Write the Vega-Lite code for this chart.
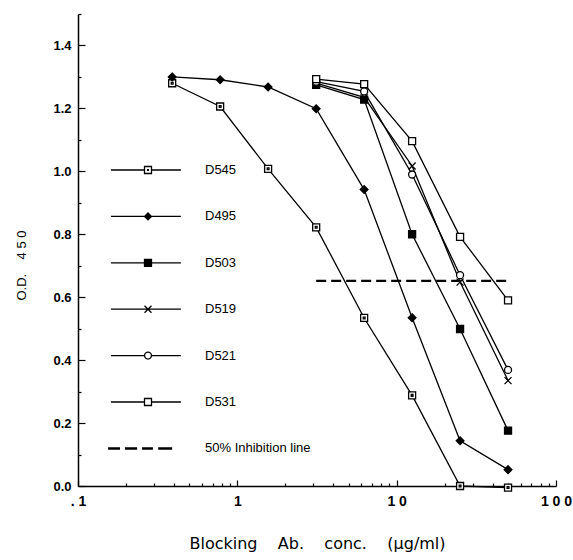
{
  "$schema": "https://vega.github.io/schema/vega-lite/v6.json",
  "width": 478,
  "height": 472,
  "autosize": "none",
  "padding": {"left": 78, "top": 14, "right": 17, "bottom": 74},
  "background": "white",
  "data": {
    "values": [
      {"series": "D545", "conc": 0.39, "od": 1.280},
      {"series": "D545", "conc": 0.78, "od": 1.206},
      {"series": "D545", "conc": 1.56, "od": 1.008},
      {"series": "D545", "conc": 3.125, "od": 0.822},
      {"series": "D545", "conc": 6.25, "od": 0.534},
      {"series": "D545", "conc": 12.5, "od": 0.288},
      {"series": "D545", "conc": 25, "od": 0.0},
      {"series": "D545", "conc": 50, "od": -0.005},
      {"series": "D495", "conc": 0.39, "od": 1.300},
      {"series": "D495", "conc": 0.78, "od": 1.291},
      {"series": "D495", "conc": 1.56, "od": 1.268},
      {"series": "D495", "conc": 3.125, "od": 1.199},
      {"series": "D495", "conc": 6.25, "od": 0.942},
      {"series": "D495", "conc": 12.5, "od": 0.535},
      {"series": "D495", "conc": 25, "od": 0.144},
      {"series": "D495", "conc": 50, "od": 0.052},
      {"series": "D503", "conc": 3.125, "od": 1.275},
      {"series": "D503", "conc": 6.25, "od": 1.228},
      {"series": "D503", "conc": 12.5, "od": 0.800},
      {"series": "D503", "conc": 25, "od": 0.499},
      {"series": "D503", "conc": 50, "od": 0.176},
      {"series": "D519", "conc": 3.125, "od": 1.280},
      {"series": "D519", "conc": 6.25, "od": 1.235},
      {"series": "D519", "conc": 12.5, "od": 1.017},
      {"series": "D519", "conc": 25, "od": 0.648},
      {"series": "D519", "conc": 50, "od": 0.335},
      {"series": "D521", "conc": 3.125, "od": 1.285},
      {"series": "D521", "conc": 6.25, "od": 1.254},
      {"series": "D521", "conc": 12.5, "od": 0.990},
      {"series": "D521", "conc": 25, "od": 0.670},
      {"series": "D521", "conc": 50, "od": 0.369},
      {"series": "D531", "conc": 3.125, "od": 1.293},
      {"series": "D531", "conc": 6.25, "od": 1.277},
      {"series": "D531", "conc": 12.5, "od": 1.096},
      {"series": "D531", "conc": 25, "od": 0.792},
      {"series": "D531", "conc": 50, "od": 0.590},
      {"series": "50% Inhibition line", "conc": 3.125, "od": 0.652},
      {"series": "50% Inhibition line", "conc": 50, "od": 0.652}
    ]
  },
  "encoding": {
    "x": {
      "field": "conc",
      "type": "quantitative",
      "scale": {"type": "log", "domain": [0.1, 100], "nice": false},
      "axis": {
        "title": "Blocking\u00a0\u00a0\u00a0 Ab.\u00a0\u00a0\u00a0 conc.\u00a0\u00a0\u00a0 (µg/ml)",
        "titleFont": "DejaVu Sans",
        "titleFontSize": 16,
        "titleFontWeight": "normal",
        "titleColor": "black",
        "titleX": 239,
        "titleY": 57,
        "titleBaseline": "middle",
        "titleAlign": "center",
        "values": [0.1, 0.2, 0.3, 0.4, 0.5, 0.6, 0.7, 0.8, 0.9, 1, 2, 3, 4, 5, 6, 7, 8, 9, 10, 20, 30, 40, 50, 60, 70, 80, 90, 100],
        "labelExpr": "datum.value == 0.1 ? '. 1' : datum.value == 1 ? '1' : datum.value == 10 ? '1 0' : datum.value == 100 ? '1 0 0' : ''",
        "labelFont": "Liberation Sans",
        "labelFontSize": 14,
        "labelFontWeight": "bold",
        "labelColor": "black",
        "labelPadding": 14,
        "labelOverlap": false,
        "labelFlush": false,
        "labelBound": false,
        "tickSize": {"condition": {"test": "indexof([0.1, 1, 10, 100], datum.value) >= 0", "value": -6}, "value": -3},
        "tickColor": "black",
        "tickWidth": 1.2,
        "domainColor": "black",
        "domainWidth": 1.5,
        "grid": false
      }
    },
    "y": {
      "field": "od",
      "type": "quantitative",
      "scale": {"domain": [0, 1.5], "nice": false, "zero": false},
      "axis": {
        "title": "O.D.\u00a0\u00a0\u00a0 4 5 0",
        "titleFont": "Liberation Sans",
        "titleFontSize": 13,
        "titleFontWeight": "normal",
        "titleColor": "black",
        "titleX": -57,
        "titleY": 251,
        "titleAngle": 270,
        "titleBaseline": "middle",
        "titleAlign": "center",
        "values": [0, 0.1, 0.2, 0.3, 0.4, 0.5, 0.6, 0.7, 0.8, 0.9, 1.0, 1.1, 1.2, 1.3, 1.4, 1.5],
        "labelExpr": "(datum.value < 1.45 && round(datum.value * 10) % 2 == 0) ? format(datum.value, '.1f') : ''",
        "labelFont": "Liberation Sans",
        "labelFontSize": 13,
        "labelFontWeight": "bold",
        "labelColor": "black",
        "labelPadding": 14,
        "labelOverlap": false,
        "labelFlush": false,
        "labelBound": false,
        "tickSize": {"condition": {"test": "round(datum.value * 10) % 2 == 0", "value": -7}, "value": -3},
        "tickColor": "black",
        "tickWidth": 1.2,
        "domainColor": "black",
        "domainWidth": 1.5,
        "grid": false
      }
    }
  },
  "layer": [
    {
      "transform": [{"filter": "datum.series === '50% Inhibition line'"}],
      "mark": {"type": "line", "color": "black", "strokeWidth": 2.2, "strokeDash": [10, 5]},
      "encoding": {"detail": {"field": "series"}}
    },
    {
      "transform": [{"filter": "datum.series !== '50% Inhibition line'"}],
      "mark": {"type": "line", "color": "black", "strokeWidth": 1.3},
      "encoding": {"detail": {"field": "series"}}
    },
    {
      "transform": [{"filter": "datum.series !== '50% Inhibition line'"}],
      "mark": {"type": "point", "filled": true, "stroke": "black", "strokeWidth": 1.3, "size": 49, "opacity": 1},
      "encoding": {
        "fill": {
          "condition": {"test": "datum.series === 'D495' || datum.series === 'D503'", "value": "black"},
          "value": "white"
        },
        "shape": {
          "field": "series",
          "type": "nominal",
          "scale": {
            "domain": ["D545", "D495", "D503", "D519", "D521", "D531", "50% Inhibition line"],
            "range": [
              "M-1,-1H1V1H-1ZM-0.25,-0.25H0.25V0.25H-0.25Z",
              "M0,-1.1L1.1,0L0,1.1L-1.1,0Z",
              "square",
              "M-1,-1L1,1M-1,1L1,-1",
              "circle",
              "square",
              "circle"
            ]
          },
          "legend": null
        }
      }
    },
    {
      "mark": {"type": "point", "filled": true, "color": "black", "size": 49, "opacity": 0},
      "encoding": {
        "shape": {
          "field": "series",
          "type": "nominal",
          "scale": {
            "domain": ["D545", "D495", "D503", "D519", "D521", "D531", "50% Inhibition line"],
            "range": [
              "M-10.6,-0.19H-1V0.19H-10.6ZM1,-0.19H9.4V0.19H1ZM-1.18,-1.18H1.18V1.18H-1.18ZM-0.82,-0.82V0.82H0.82V-0.82ZM-0.3,-0.3H0.3V0.3H-0.3Z",
              "M-10.6,-0.19H9.4V0.19H-10.6ZM0,-1.25L1.25,0L0,1.25L-1.25,0Z",
              "M-10.6,-0.19H9.4V0.19H-10.6ZM-1.18,-1.18H1.18V1.18H-1.18Z",
              "M-10.6,-0.19H9.4V0.19H-10.6ZM-0.87,-1.13L1.13,0.87L0.87,1.13L-1.13,-0.87ZM-1.13,0.87L0.87,-1.13L1.13,-0.87L-0.87,1.13Z",
              "M-10.6,-0.19H-1V0.19H-10.6ZM1,-0.19H9.4V0.19H1ZM1.18,0A1.18,1.18 0 1,1 -1.18,0A1.18,1.18 0 1,1 1.18,0ZM0.82,0A0.82,0.82 0 1,0 -0.82,0A0.82,0.82 0 1,0 0.82,0Z",
              "M-10.6,-0.19H-1V0.19H-10.6ZM1,-0.19H9.4V0.19H1ZM-1.18,-1.18H1.18V1.18H-1.18ZM-0.82,-0.82V0.82H0.82V-0.82Z",
              "M-11.4,-0.35H-8V0.35H-11.4ZM-6.6,-0.35H-3.1V0.35H-6.6ZM-1.7,-0.35H1.4V0.35H-1.7ZM2.9,-0.35H6.9V0.35H2.9Z"
            ]
          },
          "legend": {
            "title": null,
            "orient": "none",
            "legendX": 0,
            "legendY": 149.5,
            "padding": 0,
            "symbolOffset": 63.5,
            "labelOffset": 50.5,
            "rowPadding": 32.4,
            "labelFont": "Liberation Sans",
            "labelFontSize": 13,
            "labelColor": "black",
            "labelLimit": 300,
            "symbolOpacity": 1,
            "symbolSize": 49,
            "symbolFillColor": "black",
            "symbolStrokeWidth": 0
          }
        }
      }
    }
  ],
  "resolve": {"scale": {"shape": "independent"}},
  "config": {
    "view": {"stroke": null},
    "font": "Liberation Sans"
  }
}
